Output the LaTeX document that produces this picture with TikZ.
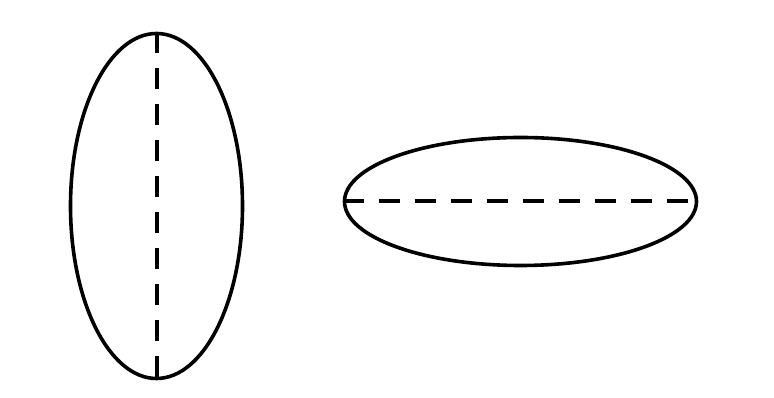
\documentclass[tikz,border=0pt]{standalone}
\usetikzlibrary{shapes.geometric}
\begin{document}
\begin{tikzpicture}[x=1pt,y=1pt,
  oval/.style={draw=black, ellipse, inner sep=0pt, line width=3.6pt},
  axisline/.style={draw=black, line width=4pt, dash pattern=on 21pt off 15pt}]
\fill[white] (0,0) rectangle (774,398);
\useasboundingbox (0,0) rectangle (774,398);
\node[oval, minimum width=172pt, minimum height=345pt] (L) at (156.5,192) {};
\node[oval, minimum width=352pt, minimum height=128pt] (R) at (520.5,196.5) {};
\draw[axisline] (L.north) -- (L.south);
\draw[axisline] (R.west) -- (R.east);
\end{tikzpicture}
\end{document}
